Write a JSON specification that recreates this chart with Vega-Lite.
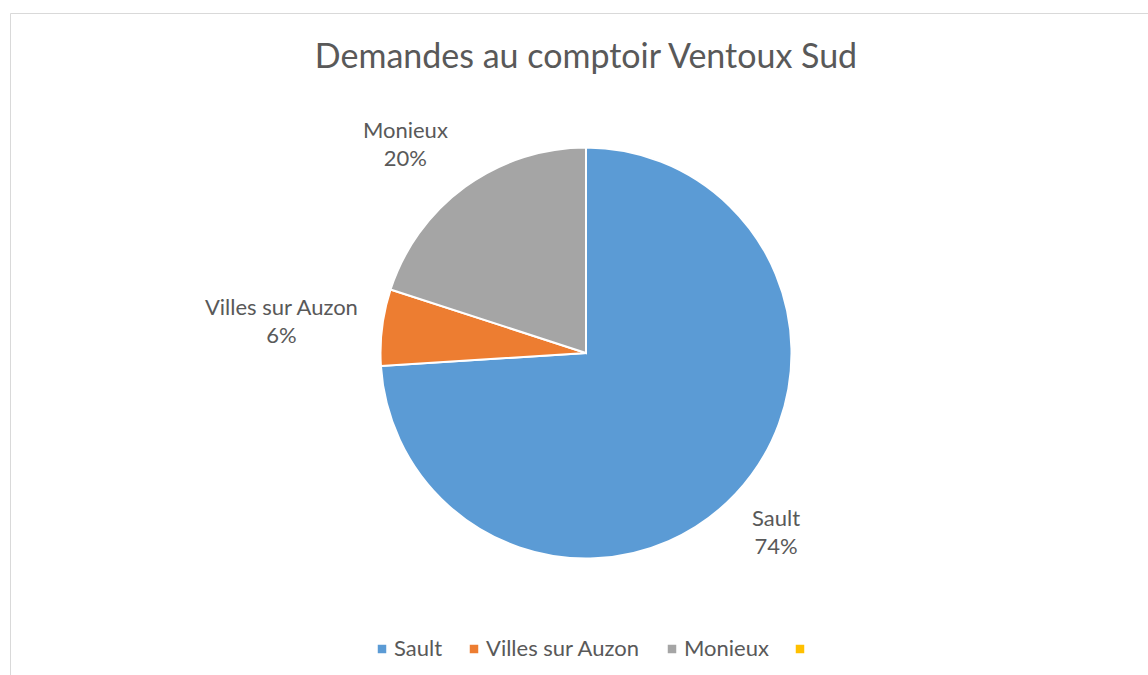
{
  "$schema": "https://vega.github.io/schema/vega-lite/v6.json",
  "autosize": {"type": "none"},
  "padding": {"left": 10, "top": 13, "right": 0, "bottom": 0},
  "width": 1139,
  "height": 663,
  "background": "white",
  "config": {
    "view": {"stroke": "#D9D9D9", "strokeWidth": 1},
    "style": {"view": {"stroke": "#D9D9D9", "strokeWidth": 1}, "cell": {"stroke": "#D9D9D9", "strokeWidth": 1}},
    "font": "Lato"
  },
  "title": {
    "text": "Demandes au comptoir Ventoux Sud",
    "font": "Lato",
    "fontSize": 34,
    "fontWeight": "normal",
    "color": "#595959",
    "anchor": "middle",
    "frame": "group",
    "dx": 6.5,
    "offset": -89,
    "baseline": "alphabetic"
  },
  "data": {
    "values": [
      {"cat": "Sault", "share": 0.74, "ord": 1},
      {"cat": "Villes sur Auzon", "share": 0.06, "ord": 2},
      {"cat": "Monieux", "share": 0.20, "ord": 3},
      {"cat": "", "share": 0, "ord": 4}
    ]
  },
  "encoding": {
    "theta": {"field": "share", "type": "quantitative", "stack": true},
    "order": {"field": "ord", "type": "quantitative"}
  },
  "layer": [
    {
      "mark": {"type": "arc", "outerRadius": 205.5, "stroke": "white", "strokeWidth": 2, "xOffset": 6.5, "yOffset": 8.5},
      "encoding": {
        "color": {
          "field": "cat",
          "type": "nominal",
          "scale": {"domain": ["Sault", "Villes sur Auzon", "Monieux", ""], "range": ["#5B9BD5", "#ED7D31", "#A5A5A5", "#FFC000"]},
          "legend": {
            "orient": "none",
            "legendX": 361,
            "legendY": 625,
            "direction": "horizontal",
            "title": null,
            "symbolType": "square",
            "symbolSize": 72,
            "symbolStrokeWidth": 0,
            "labelFont": "Lato",
            "labelFontSize": 22,
            "labelColor": "#595959",
            "labelOffset": 1,
            "columnPadding": 20,
            "padding": 0
          }
        }
      }
    },
    {
      "mark": {"type": "text", "radius": 262, "dx": 5.5, "dy": -4.5, "font": "Lato", "fontSize": 22, "fill": "#595959", "align": "center", "baseline": "middle"},
      "encoding": {"text": {"condition": {"test": "datum.cat === 'Sault'", "field": "cat", "type": "nominal"}, "value": ""}}
    },
    {
      "mark": {"type": "text", "radius": 262, "dx": 5.5, "dy": 23.5, "font": "Lato", "fontSize": 22, "fill": "#595959", "align": "center", "baseline": "middle"},
      "encoding": {"text": {"condition": {"test": "datum.cat === 'Sault'", "field": "share", "type": "quantitative", "format": ".0%"}, "value": ""}}
    },
    {
      "mark": {"type": "text", "radius": 306, "dx": 5.5, "dy": 1.5, "font": "Lato", "fontSize": 22, "fill": "#595959", "align": "center", "baseline": "middle"},
      "encoding": {"text": {"condition": {"test": "datum.cat === 'Villes sur Auzon'", "field": "cat", "type": "nominal"}, "value": ""}}
    },
    {
      "mark": {"type": "text", "radius": 306, "dx": 5.5, "dy": 29.5, "font": "Lato", "fontSize": 22, "fill": "#595959", "align": "center", "baseline": "middle"},
      "encoding": {"text": {"condition": {"test": "datum.cat === 'Villes sur Auzon'", "field": "share", "type": "quantitative", "format": ".0%"}, "value": ""}}
    },
    {
      "mark": {"type": "text", "radius": 275, "dx": -12.5, "dy": 8.5, "font": "Lato", "fontSize": 22, "fill": "#595959", "align": "center", "baseline": "middle"},
      "encoding": {"text": {"condition": {"test": "datum.cat === 'Monieux'", "field": "cat", "type": "nominal"}, "value": ""}}
    },
    {
      "mark": {"type": "text", "radius": 275, "dx": -12.5, "dy": 36.5, "font": "Lato", "fontSize": 22, "fill": "#595959", "align": "center", "baseline": "middle"},
      "encoding": {"text": {"condition": {"test": "datum.cat === 'Monieux'", "field": "share", "type": "quantitative", "format": ".0%"}, "value": ""}}
    }
  ]
}
